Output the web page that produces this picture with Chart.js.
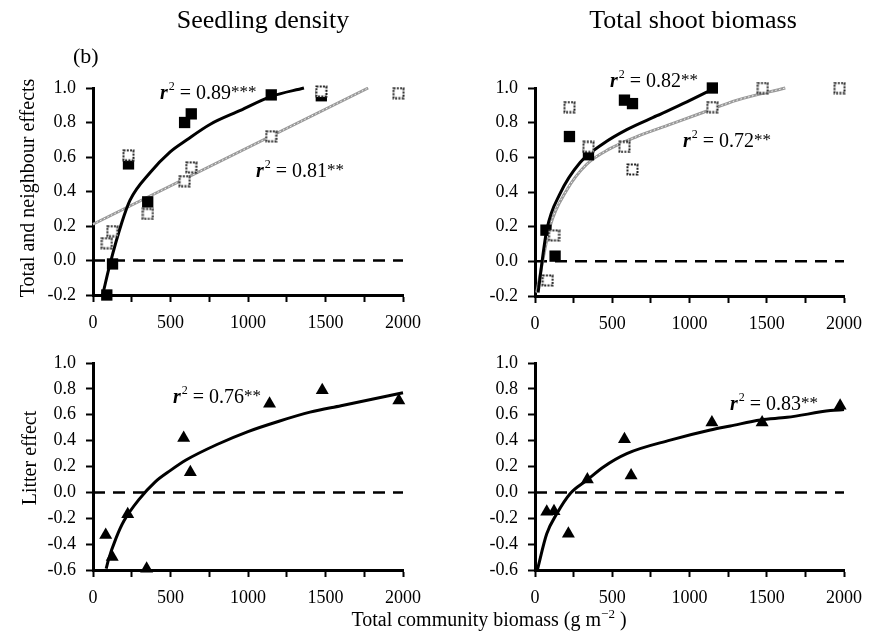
<!DOCTYPE html>
<html>
<head>
<meta charset="utf-8">
<script src="https://cdn.jsdelivr.net/npm/chart.js@4"></script>
<style>
html, body { margin: 0; padding: 0; background: #fff; }
#wrap { position: relative; width: 869px; height: 637px; overflow: hidden; background: #fff; }
canvas { position: absolute; left: 0; top: 0; }
.txt { position: absolute; white-space: nowrap; line-height: 1; font-family: 'Liberation Serif', 'Times New Roman', serif; color: #000; z-index: 5; }
.ann { font-size: 20px; }
.ann i { font-weight: bold; }
.ann .sup { font-size: 12px; position: relative; top: -9px; margin-left: 1px; }
.ann .st { font-size: 17px; position: relative; top: -2px; }
.xt .sup { font-size: 13px; position: relative; top: -8px; }
</style>
</head>
<body>
<div id="wrap">
  <canvas id="c1" width="869" height="637"></canvas>
  <canvas id="c2" width="869" height="637"></canvas>
  <canvas id="c3" width="869" height="637"></canvas>
  <canvas id="c4" width="869" height="637"></canvas>

  <div class="txt" style="left:263px;top:6.7px;font-size:26px;transform:translateX(-50%);">Seedling density</div>
  <div class="txt" style="left:693px;top:6.7px;font-size:26px;transform:translateX(-50%);">Total shoot biomass</div>
  <div class="txt" style="left:73px;top:44.6px;font-size:22px;">(b)</div>
  <div class="txt" style="left:27px;top:188px;font-size:20px;transform:translate(-50%,-50%) rotate(-90deg);">Total and neighbour effects</div>
  <div class="txt" style="left:29px;top:458px;font-size:20px;transform:translate(-50%,-50%) rotate(-90deg);">Litter effect</div>
  <div class="txt xt" style="left:489px;top:609px;font-size:20px;transform:translateX(-50%);">Total community biomass (g m<span class="sup">−2</span> )</div>

  <div class="txt ann" style="left:160px;top:82px;"><i>r</i><span class="sup">2</span> = 0.89<span class="st">***</span></div>
  <div class="txt ann" style="left:256px;top:160px;"><i>r</i><span class="sup">2</span> = 0.81<span class="st">**</span></div>
  <div class="txt ann" style="left:610px;top:70px;"><i>r</i><span class="sup">2</span> = 0.82<span class="st">**</span></div>
  <div class="txt ann" style="left:683px;top:130px;"><i>r</i><span class="sup">2</span> = 0.72<span class="st">**</span></div>
  <div class="txt ann" style="left:173px;top:386px;"><i>r</i><span class="sup">2</span> = 0.76<span class="st">**</span></div>
  <div class="txt ann" style="left:730px;top:393px;"><i>r</i><span class="sup">2</span> = 0.83<span class="st">**</span></div>
</div>
<script>
// ---------- DATA ----------
// Seedling density: total effect (filled squares) and neighbour effect (open squares)
const seedTotalX = [89, 126, 229, 353, 591, 634, 1150, 1473];
const seedTotalY = [-0.20, -0.02, 0.56, 0.34, 0.80, 0.85, 0.96, 0.955];
const seedNeighX = [89, 125, 229, 354, 591, 634, 1150, 1473, 1971];
const seedNeighY = [0.10, 0.17, 0.61, 0.27, 0.46, 0.54, 0.72, 0.98, 0.97];
const seedTotalFitX = [62, 110, 186, 239, 369, 498, 606, 757, 951, 1146, 1361];
const seedTotalFitY = [-0.20, -0.02, 0.22, 0.35, 0.51, 0.63, 0.70, 0.79, 0.87, 0.95, 1.00];
const seedNeighFitX = [0, 1775];
const seedNeighFitY = [0.21, 1.00];

// Total shoot biomass: total effect (filled) and neighbour effect (open)
const shootTotalX = [71, 130, 223, 346, 579, 631, 1148];
const shootTotalY = [0.18, 0.03, 0.72, 0.615, 0.93, 0.91, 1.00];
const shootNeighX = [82, 123, 223, 346, 579, 631, 1148, 1474, 1971];
const shootNeighY = [-0.11, 0.15, 0.89, 0.66, 0.66, 0.53, 0.89, 1.00, 1.00];
const shootTotalFitX = [20, 76, 162, 292, 443, 594, 789, 983, 1165];
const shootTotalFitY = [-0.18, 0.18, 0.39, 0.57, 0.68, 0.76, 0.84, 0.92, 1.00];
const shootNeighFitX = [11, 97, 205, 335, 486, 659, 875, 1091, 1308, 1620];
const shootNeighFitY = [-0.18, 0.20, 0.41, 0.56, 0.65, 0.72, 0.79, 0.86, 0.93, 1.00];

// Litter effect (triangles)
const seedLitterX = [82, 124, 224, 346, 585, 628, 1139, 1479, 1973];
const seedLitterY = [-0.33, -0.50, -0.17, -0.59, 0.42, 0.155, 0.685, 0.79, 0.71];
const seedLitterFitX = [85, 100, 150, 200, 300, 400, 500, 600, 800, 1000, 1200, 1400, 1600, 1800, 2000];
const seedLitterFitY = [-0.59, -0.52, -0.35, -0.22, -0.05, 0.08, 0.17, 0.25, 0.37, 0.47, 0.55, 0.62, 0.67, 0.72, 0.77];
const shootLitterX = [76, 123, 216, 339, 579, 622, 1145, 1470, 1975];
const shootLitterY = [-0.15, -0.145, -0.32, 0.10, 0.41, 0.13, 0.54, 0.54, 0.67];
const shootLitterFitX = [15, 76, 141, 227, 335, 443, 594, 875, 1135, 1264, 1459, 1632, 1912, 2000];
const shootLitterFitY = [-0.60, -0.32, -0.165, -0.01, 0.094, 0.197, 0.30, 0.404, 0.482, 0.513, 0.56, 0.58, 0.632, 0.64];

// Zero reference line
const zeroX = [0, 2000];
const zeroY = [0, 0];

// Tick labels
const xTickValues = [0, 500, 1000, 1500, 2000];
const xTickLabels = ['0', '500', '1000', '1500', '2000'];
const topYRange = [-0.2, 1.0];
const bottomYRange = [-0.6, 1.0];

// ---------- RENDERING ----------
const FONT = "'Liberation Serif','Times New Roman',serif";
Chart.defaults.font.family = FONT;
Chart.defaults.color = '#000';
const W = 869, H = 637, YW = 60, XH = 50;

function pts(xs, ys) { return xs.map((x, i) => ({ x: x, y: ys[i] })); }

function openSquare(size) {
  const c = document.createElement('canvas');
  c.width = size; c.height = size;
  const g = c.getContext('2d');
  g.fillStyle = '#fff';
  g.fillRect(1, 1, size - 2, size - 2);
  g.strokeStyle = '#222';
  g.lineWidth = 2;
  g.setLineDash([2, 1.3]);
  g.strokeRect(1.5, 1.5, size - 3, size - 3);
  return c;
}
const OPEN = openSquare(13);

function markers(xs, ys, style, radius, order) {
  return { type: 'line', data: pts(xs, ys), showLine: false, pointStyle: style,
    pointRadius: radius, pointHoverRadius: radius, pointBackgroundColor: '#000',
    pointBorderColor: '#000', pointBorderWidth: 0, order: order, clip: false };
}
function curve(xs, ys, color, width, dash, order) {
  return { type: 'line', data: pts(xs, ys), showLine: true, borderColor: color,
    borderWidth: width, borderDash: dash || [], pointRadius: 0, pointHoverRadius: 0,
    tension: 0.4, cubicInterpolationMode: 'monotone', fill: false, order: order,
    clip: false, borderCapStyle: 'butt' };
}

function panel(id, area, yRange, datasets) {
  new Chart(document.getElementById(id), {
    type: 'line',
    data: { datasets: datasets },
    options: {
      responsive: false, animation: false, devicePixelRatio: 1,
      layout: { padding: { left: area.l - YW, top: area.t, right: W - area.r, bottom: H - area.b - XH } },
      plugins: { legend: { display: false }, tooltip: { enabled: false } },
      events: [],
      scales: {
        x: {
          type: 'linear', min: 0, max: 2000,
          border: { display: true, color: '#000', width: 3 },
          grid: { display: true, drawOnChartArea: false, drawTicks: true, tickLength: 7, tickWidth: 2, tickColor: '#000' },
          ticks: { stepSize: 250, autoSkip: false, maxRotation: 0, padding: 10, color: '#000',
            font: { size: 18, family: FONT },
            callback: (v) => { const i = xTickValues.indexOf(v); return i >= 0 ? xTickLabels[i] : ''; } },
          afterFit: (s) => { s.height = XH; s.paddingLeft = 0; s.paddingRight = 0; }
        },
        y: {
          type: 'linear', min: yRange[0], max: yRange[1],
          border: { display: true, color: '#000', width: 3 },
          grid: { display: true, drawOnChartArea: false, drawTicks: true, tickLength: 7, tickWidth: 2, tickColor: '#000' },
          ticks: { stepSize: 0.2, autoSkip: false, padding: 10, color: '#000',
            font: { size: 18, family: FONT },
            callback: (v) => (Math.abs(v) < 1e-9 ? '0.0' : v.toFixed(1)) },
          afterFit: (s) => { s.width = YW; s.paddingTop = 0; s.paddingBottom = 0; }
        }
      }
    }
  });
}

const chainGrey = '#9a9a9a';

panel('c1', { l: 93, t: 88, r: 403, b: 295 }, topYRange, [
  markers(seedNeighX, seedNeighY, OPEN, 6, 0),
  markers(seedTotalX, seedTotalY, 'rect', 8, 1),
  curve(seedTotalFitX, seedTotalFitY, '#000', 3, [], 2),
  curve(seedNeighFitX, seedNeighFitY, 'rgba(255,255,255,0.9)', 1, [1.5, 2.5], 3),
  curve(seedNeighFitX, seedNeighFitY, chainGrey, 3, [], 4),
  curve(zeroX, zeroY, '#000', 2.5, [12, 8], 5)
]);

panel('c2', { l: 535, t: 88, r: 844, b: 296 }, topYRange, [
  markers(shootNeighX, shootNeighY, OPEN, 6, 0),
  markers(shootTotalX, shootTotalY, 'rect', 8, 1),
  curve(shootTotalFitX, shootTotalFitY, '#000', 3, [], 2),
  curve(shootNeighFitX, shootNeighFitY, 'rgba(255,255,255,0.9)', 1, [1.5, 2.5], 3),
  curve(shootNeighFitX, shootNeighFitY, chainGrey, 3, [], 4),
  curve(zeroX, zeroY, '#000', 2.5, [12, 8], 5)
]);

panel('c3', { l: 93, t: 363, r: 403, b: 570 }, bottomYRange, [
  markers(seedLitterX, seedLitterY, 'triangle', 7.5, 0),
  curve(seedLitterFitX, seedLitterFitY, '#000', 3, [], 2),
  curve(zeroX, zeroY, '#000', 2.5, [12, 8], 5)
]);

panel('c4', { l: 535, t: 363, r: 844, b: 570 }, bottomYRange, [
  markers(shootLitterX, shootLitterY, 'triangle', 7.5, 0),
  curve(shootLitterFitX, shootLitterFitY, '#000', 3, [], 2),
  curve(zeroX, zeroY, '#000', 2.5, [12, 8], 5)
]);
</script>
</body>
</html>
